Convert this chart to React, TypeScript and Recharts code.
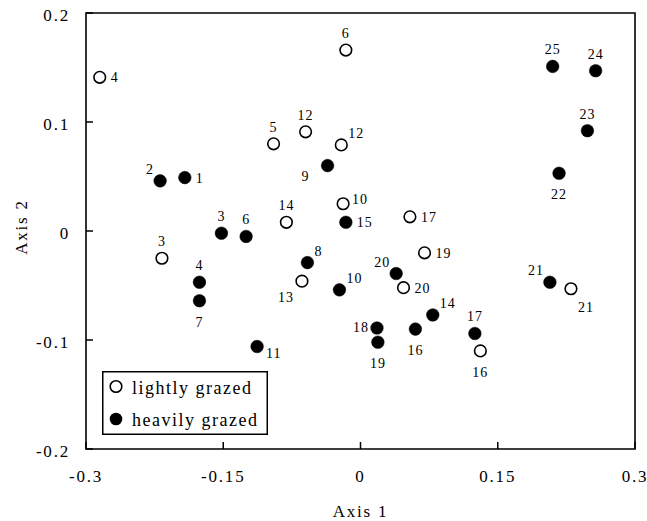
import { ScatterChart, Scatter, XAxis, YAxis, ReferenceArea, Legend, Label } from 'recharts'

// lightly grazed plots (open circles)
const lightIds = [4, 6, 5, 12, 12, 14, 10, 17, 19, 3, 13, 20, 16, 21]
const lightX = [-0.285, -0.016, -0.095, -0.06, -0.021, -0.081, -0.019, 0.054, 0.07, -0.217, -0.064, 0.047, 0.131, 0.23]
const lightY = [0.141, 0.166, 0.08, 0.091, 0.079, 0.008, 0.025, 0.013, -0.02, -0.025, -0.046, -0.052, -0.11, -0.053]
const lightLabelAt = ['r', 't', 't', 't', 'tr', 't', 'rt', 'r', 'r', 't', 'bl', 'r', 'b', 'br']

// heavily grazed plots (filled circles)
const heavyIds = [2, 1, 9, 3, 6, 15, 8, 4, 7, 11, 10, 20, 14, 18, 19, 16, 17, 21, 25, 24, 23, 22]
const heavyX = [-0.219, -0.192, -0.036, -0.152, -0.125, -0.016, -0.058, -0.176, -0.176, -0.113, -0.023, 0.039, 0.079, 0.018, 0.019, 0.06, 0.125, 0.207, 0.21, 0.257, 0.248, 0.217]
const heavyY = [0.046, 0.049, 0.06, -0.002, -0.005, 0.008, -0.029, -0.047, -0.064, -0.106, -0.054, -0.039, -0.077, -0.089, -0.102, -0.09, -0.094, -0.047, 0.151, 0.147, 0.092, 0.053]
const heavyLabelAt = ['tl', 'r', 'lb', 't', 't', 'r', 'tr', 't', 'b', 'rb', 'tr', 'tl', 'tr', 'l', 'b', 'b', 't', 'tl', 't', 't', 't', 'b']

const xTicks = [-0.3, -0.15, 0, 0.15, 0.3]
const yTicks = [-0.2, -0.1, 0, 0.1, 0.2]
const seriesNames = ['lightly grazed', 'heavily grazed']

const FONT = '"Liberation Serif", "Times New Roman", serif'

const lightData = lightIds.map((id, i) => ({ id, x: lightX[i], y: lightY[i], at: lightLabelAt[i] }))
const heavyData = heavyIds.map((id, i) => ({ id, x: heavyX[i], y: heavyY[i], at: heavyLabelAt[i] }))

// label offset from the point centre: dx, baseline dy, anchor
const OFFSETS: Record<string, [number, number, string]> = {
  t: [0, -12, 'middle'],
  b: [0, 26, 'middle'],
  r: [11, 5, 'start'],
  l: [-8, 4, 'end'],
  tr: [7, -7, 'start'],
  rt: [9, 0, 'start'],
  tl: [-6, -7, 'end'],
  br: [7, 23, 'start'],
  bl: [-8, 21, 'end'],
  rb: [9, 11, 'start'],
  lb: [-18, 15, 'end'],
}

const makeShape = (open: boolean) => (props: any) => {
  const { cx, cy, payload } = props
  const [dx, dy, anchor] = OFFSETS[payload.at] || OFFSETS.r
  return (
    <g>
      <circle
        cx={cx}
        cy={cy}
        r={open ? 5.8 : 6.3}
        fill={open ? '#fff' : '#000'}
        stroke="#000"
        strokeWidth={open ? 1.6 : 0.5}
      />
      <text
        x={cx + dx}
        y={cy + dy}
        textAnchor={anchor as any}
        fontFamily={FONT}
        fontSize={14}
        letterSpacing={1}
        fill="#000">
        {payload.id}
      </text>
    </g>
  )
}

const XTick = (props: any) => {
  const { x, y, payload } = props
  return (
    <g>
      <line x1={x} x2={x} y1={y - 18} y2={y - 25} stroke="#000" strokeWidth={1.5} />
      <text x={x} y={y + 14.5} textAnchor="middle" fontFamily={FONT} fontSize={17} letterSpacing={1.8} fill="#000">
        {String(payload.value)}
      </text>
    </g>
  )
}

const YTick = (props: any) => {
  const { x, y, payload } = props
  return (
    <g>
      <line x1={x + 16} x2={x + 23} y1={y} y2={y} stroke="#000" strokeWidth={1.5} />
      <text x={x} y={y + 7.5} textAnchor="end" fontFamily={FONT} fontSize={17} letterSpacing={1.8} fill="#000">
        {String(payload.value)}
      </text>
    </g>
  )
}

const YTitle = (props: any) => {
  const { viewBox } = props
  const cx = 21
  const cy = viewBox.y + viewBox.height / 2 - 4
  return (
    <text
      x={cx}
      y={cy}
      dy={6}
      transform={`rotate(-90 ${cx} ${cy})`}
      textAnchor="middle"
      fontFamily={FONT}
      fontSize={17}
      letterSpacing={1.8}
      fill="#000">
      Axis 2
    </text>
  )
}

const LegendBox = () => (
  <svg width={166} height={64} style={{ display: 'block' }}>
    <rect x={0.75} y={0.75} width={164.5} height={62.5} fill="#fff" stroke="#000" strokeWidth={1.5} />
    <circle cx={14} cy={15.5} r={5.8} fill="#fff" stroke="#000" strokeWidth={1.6} />
    <text x={30} y={23} fontFamily={FONT} fontSize={18} letterSpacing={1.5} fill="#000">
      {seriesNames[0]}
    </text>
    <circle cx={14} cy={48} r={6.3} fill="#000" />
    <text x={30} y={55} fontFamily={FONT} fontSize={18} letterSpacing={1.5} fill="#000">
      {seriesNames[1]}
    </text>
  </svg>
)

export default function App() {
  return (
    <div style={{ position: 'absolute', left: 0, top: 0, background: '#fff' }}>
      <ScatterChart width={647} height={521} margin={{ top: 13, right: 12, bottom: 0, left: 0 }}>
        <ReferenceArea
          x1={-0.3}
          x2={0.3}
          y1={-0.2}
          y2={0.2}
          fill="none"
          stroke="#000"
          strokeWidth={1.6}
          ifOverflow="extendDomain"
        />
        <XAxis
          type="number"
          dataKey="x"
          domain={[-0.3, 0.3]}
          ticks={xTicks}
          height={72}
          axisLine={false}
          tickLine={false}
          tickSize={0}
          tickMargin={18}
          tick={<XTick />}
          interval={0}>
          <Label
            value="Axis 1"
            position="insideBottom"
            offset={4}
            style={{ fontFamily: FONT, fontSize: 17, letterSpacing: 1.8, fill: '#000' }}
          />
        </XAxis>
        <YAxis
          type="number"
          dataKey="y"
          domain={[-0.2, 0.2]}
          ticks={yTicks}
          width={86}
          axisLine={false}
          tickLine={false}
          tickSize={0}
          tickMargin={16}
          tick={<YTick />}
          interval={0}>
          <Label content={<YTitle />} />
        </YAxis>
        <Scatter
          name={seriesNames[0]}
          data={lightData}
          fill="#fff"
          shape={makeShape(true)}
          isAnimationActive={false}
        />
        <Scatter
          name={seriesNames[1]}
          data={heavyData}
          fill="#000"
          shape={makeShape(false)}
          isAnimationActive={false}
        />
        <Legend
          layout="vertical"
          align="center"
          verticalAlign="middle"
          content={<LegendBox />}
          wrapperStyle={{ left: 102, top: 371, width: 166, height: 64 }}
        />
      </ScatterChart>
    </div>
  )
}
